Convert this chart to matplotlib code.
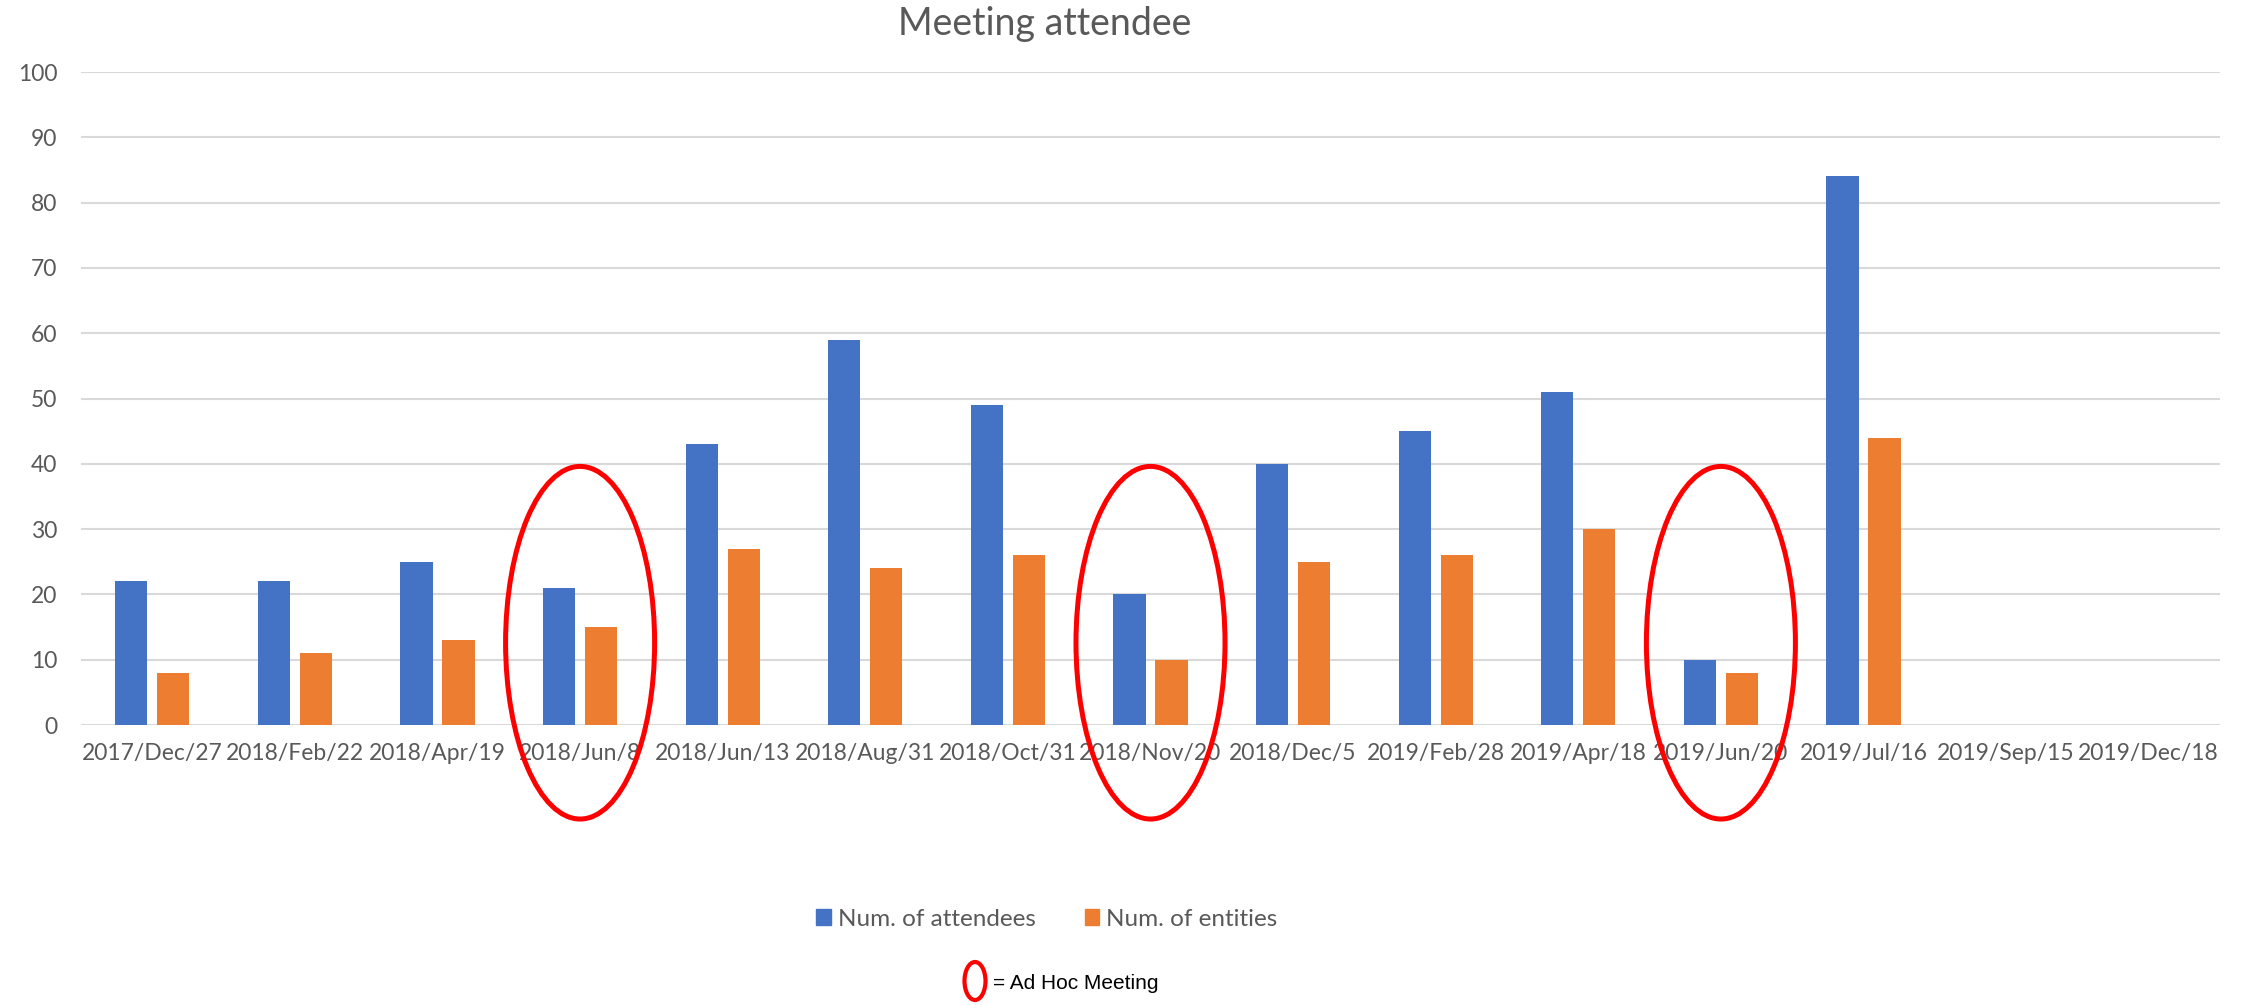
import numpy as np
import matplotlib
matplotlib.use("Agg")
import matplotlib.pyplot as plt
from matplotlib.patches import Ellipse, Patch

# data
dates = ["2017/Dec/27", "2018/Feb/22", "2018/Apr/19", "2018/Jun/8", "2018/Jun/13",
         "2018/Aug/31", "2018/Oct/31", "2018/Nov/20", "2018/Dec/5", "2019/Feb/28",
         "2019/Apr/18", "2019/Jun/20", "2019/Jul/16", "2019/Sep/15", "2019/Dec/18"]
attendees = [22, 22, 25, 21, 43, 59, 49, 20, 40, 45, 51, 10, 84, 0, 0]
entities = [8, 11, 13, 15, 27, 24, 26, 10, 25, 26, 30, 8, 44, 0, 0]
ad_hoc = [3, 7, 11]  # meetings circled in red

BLUE = "#4472C4"
ORANGE = "#ED7D31"
GREY = "#595959"

plt.rcParams["font.family"] = ["Lato", "DejaVu Sans"]

fig = plt.figure(figsize=(22.5, 10.05), dpi=100)
ax = fig.add_axes([81 / 2250, 1 - 725 / 1005, (2220 - 81) / 2250, (725 - 72) / 1005])

x = np.arange(len(dates))
w = 0.225
ax.bar(x - 0.147, attendees, w, color=BLUE, label="Num. of attendees", zorder=3)
ax.bar(x + 0.147, entities, w, color=ORANGE, label="Num. of entities", zorder=3)

ax.set_xlim(-0.5, len(dates) - 0.5)
ax.set_ylim(0, 100)
ax.set_yticks(range(0, 101, 10))
ax.set_xticks(x)
ax.set_xticklabels(dates)
ax.tick_params(axis="both", length=0, labelsize=16.5, labelcolor=GREY)
ax.tick_params(axis="y", pad=17)
ax.tick_params(axis="x", pad=13)
ax.grid(axis="y", color="#D9D9D9", linewidth=1.5, zorder=0)
for s in ax.spines.values():
    s.set_visible(False)

fig.text(1045 / 2250, 1 - 24 / 1005, "Meeting attendee", fontsize=27, color=GREY,
         ha="center", va="center")

# red ellipses around the ad hoc meetings
for i in ad_hoc:
    e = Ellipse((i, 12.6), 1.045, 54, fill=False, edgecolor="red",
                linewidth=3.6, clip_on=False, zorder=5)
    ax.add_patch(e)

handles = [Patch(color=BLUE, label="Num. of attendees"),
           Patch(color=ORANGE, label="Num. of entities")]
fig.legend(handles=handles, loc="center", bbox_to_anchor=(1047 / 2250, 1 - 919 / 1005),
           ncol=2, frameon=False, fontsize=17.5, labelcolor=GREY,
           handlelength=0.6, handleheight=0.6, handletextpad=0.3, columnspacing=2.0)

# key for the red ellipse
fig.patches.append(Ellipse((975 / 2250, 1 - 981 / 1005), 21 / 2250, 38 / 1005,
                           transform=fig.transFigure, fill=False,
                           edgecolor="red", linewidth=3))
fig.text(993 / 2250, 1 - 983 / 1005, "= Ad Hoc Meeting", fontsize=15,
         family="Liberation Sans", color="black", va="center", ha="left")

fig.savefig("out.png", dpi=100)
